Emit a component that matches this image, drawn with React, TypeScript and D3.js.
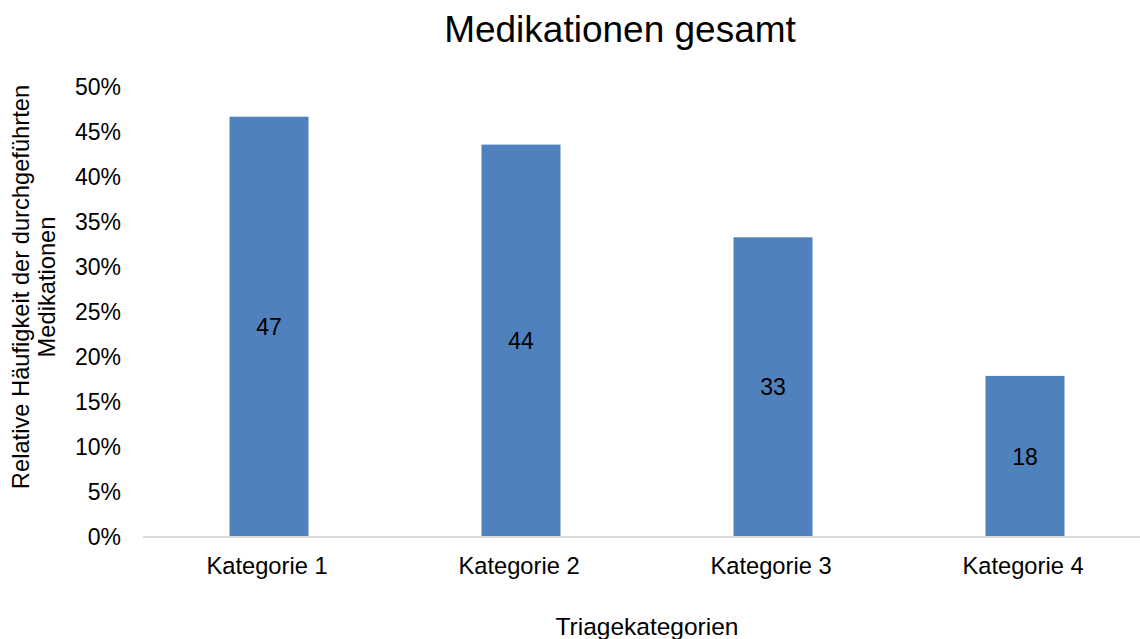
import React from "react";
import * as d3 from "d3";

const categories = ["Kategorie 1", "Kategorie 2", "Kategorie 3", "Kategorie 4"];
const values = [46.7, 43.6, 33.3, 17.9];
const dataLabels = ["47", "44", "33", "18"];
const yTicks = [0, 5, 10, 15, 20, 25, 30, 35, 40, 45, 50];
const title = "Medikationen gesamt";
const xTitle = "Triagekategorien";
const yTitleLines = ["Relative Häufigkeit der durchgeführten", "Medikationen"];

const W = 1140;
const H = 639;
const FONT = "'Liberation Sans', Arial, sans-serif";

export default function App() {
  const left = 143;
  const right = 1151;
  const top = 87;
  const bottom = 537;
  const x = d3
    .scaleBand<string>()
    .domain(categories)
    .range([left, right])
    .paddingInner(0.6865)
    .paddingOuter(0.34325);
  const y = d3.scaleLinear().domain([0, 50]).range([bottom, top]);

  return (
    <svg
      width={W}
      height={H}
      style={{ position: "absolute", left: 0, top: 0, background: "#fff" }}
      fontFamily={FONT}
    >
      <rect x={0} y={0} width={W} height={H} fill="#fff" />
      <text x={620} y={42} fontSize={37} textAnchor="middle" fill="#000">
        {title}
      </text>
      {yTicks.map((t) => (
        <text
          key={t}
          x={121}
          y={y(t)}
          dy="0.35em"
          fontSize={23}
          textAnchor="end"
          fill="#000"
        >
          {t}%
        </text>
      ))}
      {categories.map((c, i) => {
        const bx = x(c)!;
        const by = y(values[i]);
        return (
          <g key={c}>
            <rect x={bx} y={by} width={x.bandwidth()} height={bottom - by} fill="#4f81bd" />
            <text
              x={bx + x.bandwidth() / 2}
              y={(by + bottom) / 2}
              dy="0.35em"
              fontSize={23}
              textAnchor="middle"
              fill="#000"
            >
              {dataLabels[i]}
            </text>
            <text
              x={bx + x.bandwidth() / 2 - 2}
              y={574}
              fontSize={23.7}
              textAnchor="middle"
              fill="#000"
            >
              {c}
            </text>
          </g>
        );
      })}
      <line x1={left} x2={W} y1={bottom} y2={bottom} stroke="#d9d9d9" strokeWidth={2} />
      <text x={647} y={635} fontSize={24.5} textAnchor="middle" fill="#000">
        {xTitle}
      </text>
      <g transform="translate(0,287) rotate(-90)">
        {yTitleLines.map((l, i) => (
          <text key={i} x={0} y={29 + i * 26} fontSize={23.7} textAnchor="middle" fill="#000">
            {l}
          </text>
        ))}
      </g>
    </svg>
  );
}
